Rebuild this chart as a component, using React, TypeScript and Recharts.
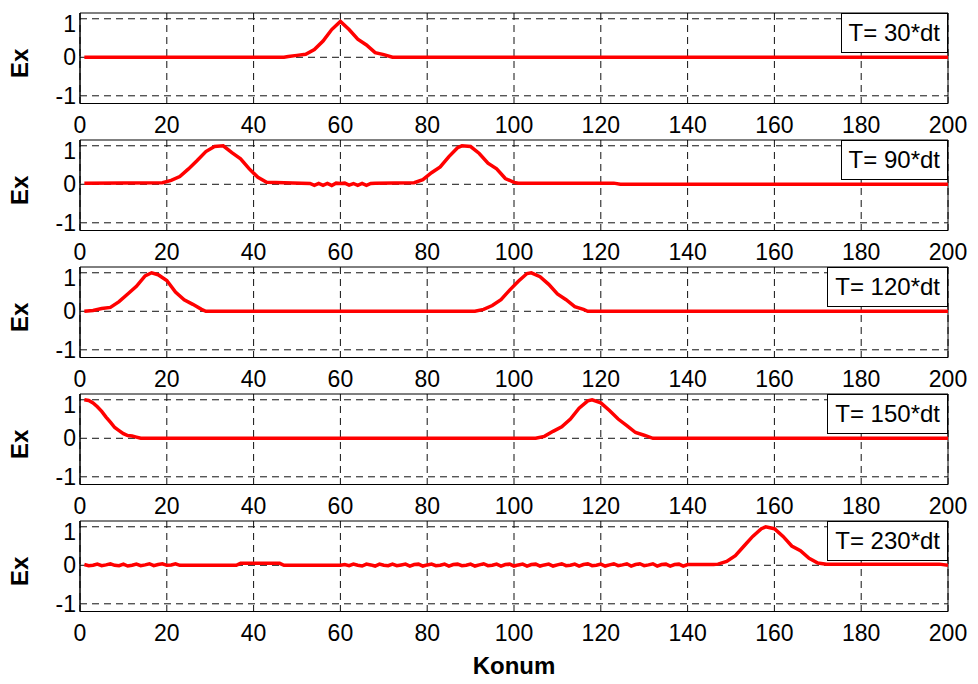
import {
  LineChart,
  Line,
  XAxis,
  YAxis,
  CartesianGrid,
  ReferenceArea,
  Legend,
  Label,
} from "recharts";

const FONT = "'Liberation Sans', Arial, Helvetica, sans-serif";

const konumTicks = [0, 20, 40, 60, 80, 100, 120, 140, 160, 180, 200];
const exTicks = [-1, 0, 1];
const exDomain: [number, number] = [-1.2, 1.15];

// [konum, Ex] samples for each time step
const t30: [number, number][] = [
  [1, 0], [47, 0], [48, 0.02], [50, 0.05], [52, 0.08], [54, 0.2], [56, 0.42],
  [58, 0.72], [60, 0.93], [62, 0.72], [64, 0.47], [66, 0.32], [68, 0.12],
  [70, 0.07], [72, 0], [200, 0],
];

const t90: [number, number][] = [
  [1, 0.03], [19, 0.04], [21, 0.1], [23, 0.2], [25, 0.4], [27, 0.62], [29, 0.85],
  [31, 0.98], [33, 1.0], [35, 0.82], [37, 0.66], [39, 0.4], [41, 0.18], [43, 0.05],
  [53, 0.02], [54, -0.03], [55, 0.02], [56, -0.03], [57, 0.02], [58, -0.03],
  [59, 0.03], [60, 0.02], [61, 0.03], [62, -0.02], [63, 0.02], [64, -0.03],
  [65, 0.02], [66, -0.03], [67, 0.02], [68, 0.03], [77, 0.04], [79, 0.12],
  [81, 0.3], [83, 0.45], [85, 0.72], [87, 0.95], [88, 1.0], [90, 0.98], [92, 0.8],
  [94, 0.55], [96, 0.4], [98, 0.15], [100, 0.05], [101, 0.03], [123, 0.03],
  [124.5, 0], [200, 0],
];

const t120: [number, number][] = [
  [1, 0], [3, 0.02], [5, 0.07], [7, 0.1], [9, 0.25], [11, 0.45], [13, 0.65],
  [15, 0.92], [16.5, 1.0], [18, 0.95], [20, 0.8], [22, 0.5], [24, 0.3], [26, 0.18],
  [28, 0.05], [29, 0], [91, 0], [93, 0.05], [95, 0.15], [97, 0.3], [99, 0.55],
  [101, 0.78], [103, 0.98], [104, 1.0], [106, 0.9], [108, 0.7], [110, 0.45],
  [112, 0.3], [114, 0.12], [116, 0.05], [117, 0], [200, 0],
];

const t150: [number, number][] = [
  [1, 1.0], [2, 0.98], [3, 0.92], [4, 0.82], [5, 0.7], [6, 0.55], [7, 0.42],
  [8, 0.28], [9, 0.2], [10, 0.12], [11, 0.07], [12, 0.06], [13, 0.03], [14, 0],
  [105, 0], [107, 0.05], [109, 0.18], [111, 0.3], [113, 0.5], [115, 0.78],
  [117, 0.97], [118, 1.0], [120, 0.92], [122, 0.72], [124, 0.5], [126, 0.33],
  [128, 0.15], [130, 0.08], [132, 0], [200, 0],
];

const t230: [number, number][] = [
  [1, 0.02], [2, -0.01], [3, 0.0], [4, 0.03], [5, -0.01], [6, 0.01], [7, 0.04],
  [8, 0.0], [9, -0.01], [10, 0.03], [11, -0.02], [12, 0.0], [13, 0.03], [14, -0.01],
  [15, 0.01], [16, 0.04], [17, -0.01], [18, 0.02], [19, 0.04], [20, 0.0], [21, 0.01],
  [22, 0.04], [23, 0.0], [24, 0.0], [36, 0], [37, 0.05], [46, 0.05], [47, 0],
  [60, 0], [61, 0.02], [62, -0.01], [63, 0.03], [64, 0.0], [65, -0.02], [66, 0.03],
  [67, 0.01], [68, -0.02], [69, 0.03], [70, 0.0], [71, -0.01], [72, 0.03],
  [73, -0.01], [74, 0.01], [75, 0.03], [76, -0.02], [77, 0.02], [78, 0.03],
  [79, -0.02], [80, 0.01], [81, 0.03], [82, -0.01], [83, 0.0], [84, 0.03],
  [85, -0.02], [86, 0.02], [87, 0.03], [88, -0.01], [89, 0.0], [90, 0.03],
  [91, -0.02], [92, 0.01], [93, 0.04], [94, -0.01], [95, 0.0], [96, 0.03],
  [97, -0.02], [98, 0.02], [99, 0.03], [100, -0.02], [101, 0.01], [102, 0.03],
  [103, -0.02], [104, 0.02], [105, 0.03], [106, -0.02], [107, 0.01], [108, 0.03],
  [109, -0.02], [110, 0.01], [111, 0.04], [112, -0.01], [113, 0.0], [114, 0.03],
  [115, -0.02], [116, 0.02], [117, 0.04], [118, -0.01], [119, 0.0], [120, 0.03],
  [121, -0.02], [122, 0.01], [123, 0.04], [124, -0.01], [125, 0.01], [126, 0.04],
  [127, -0.02], [128, 0.02], [129, 0.04], [130, -0.01], [131, 0.01], [132, 0.04],
  [133, -0.02], [134, 0.02], [135, 0.03], [136, -0.02], [137, 0.02], [138, 0.03],
  [139, -0.02], [140, 0.02], [146, 0.02], [147, 0.03], [149, 0.1], [151, 0.25],
  [153, 0.5], [155, 0.75], [157, 0.95], [158, 1.0], [160, 0.95], [162, 0.75],
  [164, 0.5], [166, 0.38], [168, 0.18], [170, 0.06], [172, 0.03], [198, 0.03],
  [200, 0],
];

const panels = [
  { name: "T= 30*dt", points: t30 },
  { name: "T= 90*dt", points: t90 },
  { name: "T= 120*dt", points: t120 },
  { name: "T= 150*dt", points: t150 },
  { name: "T= 230*dt", points: t230 },
];

const PLOT_TOP = 12.5;
const PLOT_STEP = 127.1;
const PLOT_H = 90.5;

const LegendBox = ({ payload }: any) => (
  <div
    style={{
      border: "1px solid #000",
      background: "#fff",
      height: 38,
      lineHeight: "38px",
      padding: "0 7px",
      fontSize: 24,
      fontFamily: FONT,
      color: "#000",
      whiteSpace: "nowrap",
    }}
  >
    {payload?.[0]?.value}
  </div>
);

const ExLabel = ({ viewBox }: any) => {
  const cy = viewBox.y + viewBox.height / 2 + 5;
  return (
    <text
      x={28}
      y={cy}
      transform={`rotate(-90, 28, ${cy})`}
      textAnchor="middle"
      fontFamily={FONT}
      fontWeight="bold"
      fontSize={24}
      fill="#000"
    >
      Ex
    </text>
  );
};

const KonumLabel = ({ viewBox }: any) => (
  <text
    x={viewBox.x + viewBox.width / 2}
    y={viewBox.y + 62}
    textAnchor="middle"
    fontFamily={FONT}
    fontWeight="bold"
    fontSize={24}
    fill="#000"
  >
    Konum
  </text>
);

function Panel({ name, points, index, last }: any) {
  const rows = points.map(([konum, ex]: [number, number]) => ({ konum, ex }));
  const axisH = last ? 72 : 38;
  const tick = { fontSize: 23, fontFamily: FONT, fill: "#000" };

  return (
    <div
      style={{
        position: "absolute",
        left: 0,
        top: PLOT_TOP + index * PLOT_STEP - 2,
      }}
    >
      <LineChart
        width={978}
        height={2 + PLOT_H + axisH}
        data={rows}
        margin={{ top: 2, right: 30, bottom: 0, left: 0 }}
      >
        <CartesianGrid
          stroke="#111"
          strokeDasharray="7 5"
          horizontalValues={exTicks}
          verticalValues={konumTicks}
        />
        <XAxis
          dataKey="konum"
          type="number"
          domain={[0, 200]}
          ticks={konumTicks}
          allowDataOverflow
          height={axisH}
          tick={tick}
          tickLine={false}
          tickSize={6}
          tickMargin={7}
          axisLine={{ stroke: "#000" }}
        >
          {last && <Label content={<KonumLabel />} />}
        </XAxis>
        <YAxis
          type="number"
          domain={exDomain}
          ticks={exTicks}
          allowDataOverflow
          width={80}
          tick={tick}
          tickLine={false}
          tickSize={4}
          tickMargin={0}
          axisLine={{ stroke: "#000" }}
        >
          <Label content={<ExLabel />} />
        </YAxis>
        <ReferenceArea
          x1={0}
          x2={200}
          y1={exDomain[0]}
          y2={exDomain[1]}
          fill="none"
          stroke="#000"
          strokeWidth={1}
        />
        <Legend
          layout="horizontal"
          verticalAlign="middle"
          align="center"
          content={<LegendBox />}
          wrapperStyle={{ top: 2, right: 30, left: "auto", width: "auto" }}
        />
        <Line
          name={name}
          dataKey="ex"
          type="linear"
          stroke="#ff0000"
          strokeWidth={3.5}
          dot={false}
          isAnimationActive={false}
        />
      </LineChart>
    </div>
  );
}

export default function App() {
  return (
    <div
      style={{
        position: "absolute",
        left: 0,
        top: 0,
        width: 978,
        height: 684,
        background: "#fff",
      }}
    >
      {panels.map((p, i) => (
        <Panel
          key={p.name}
          name={p.name}
          points={p.points}
          index={i}
          last={i === panels.length - 1}
        />
      ))}
    </div>
  );
}
